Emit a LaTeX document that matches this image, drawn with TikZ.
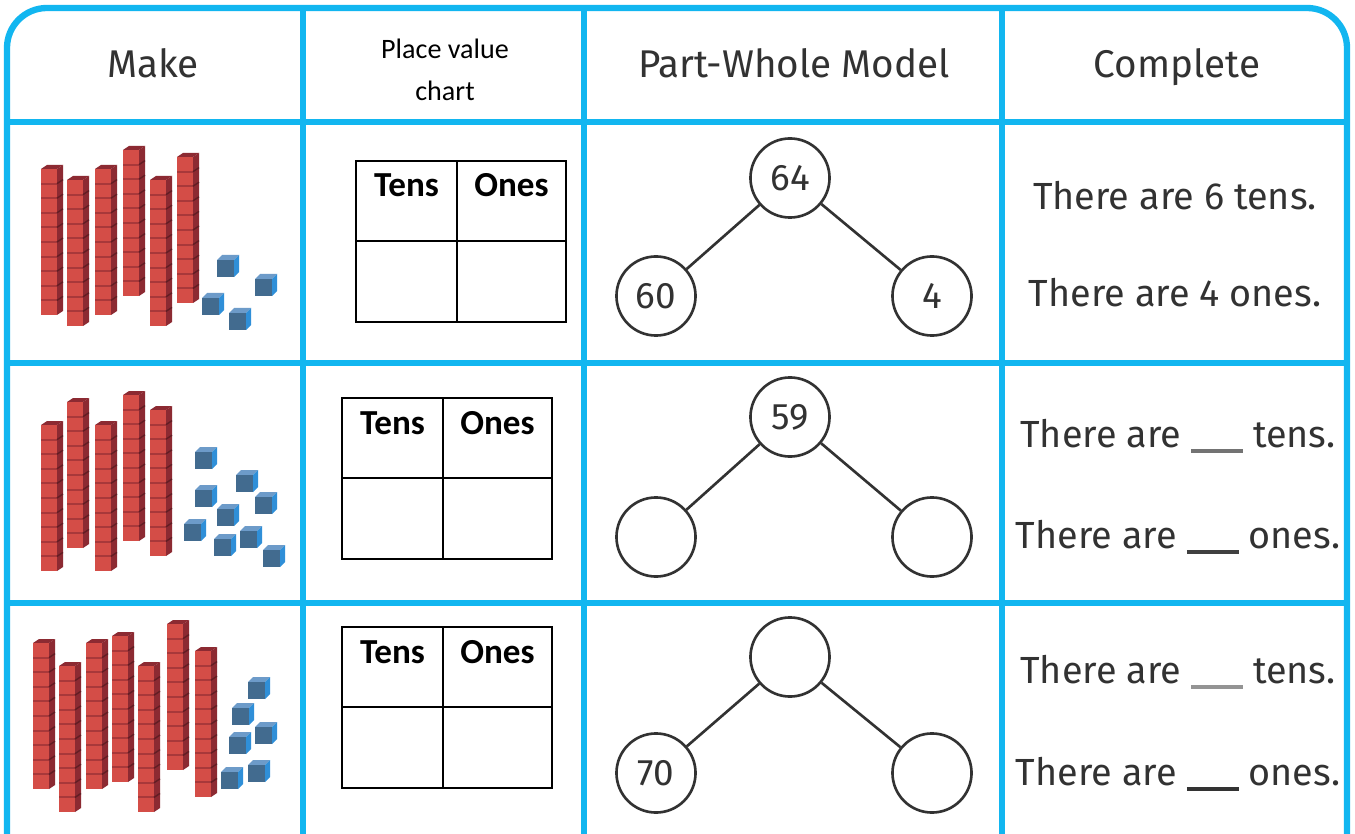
\documentclass[tikz,border=0pt]{standalone}
\usepackage{fontspec}
\usepackage{tikz}
\usetikzlibrary{positioning}
\newfontfamily\kidfont{Fira Sans}
\newfontfamily\chartfont{Carlito}
\definecolor{gridblue}{RGB}{18,182,240}
\definecolor{ink}{RGB}{50,50,50}
\definecolor{rodfront}{RGB}{212,77,71}
\definecolor{roddark}{RGB}{140,42,50}
\definecolor{rodline}{RGB}{168,56,58}
\definecolor{cubefront}{RGB}{66,107,143}
\definecolor{cubetop}{RGB}{109,155,201}
\definecolor{cubeside}{RGB}{47,143,216}
\newcommand{\blank}[1]{\textcolor{#1}{\rule[-3.5pt]{29.5pt}{2.4pt}}}

\tikzset{
  tenrod/.pic={
    \fill[roddark] (0,4) -- (6,0) -- (22,0) -- (16,4) -- cycle;
    \fill[roddark] (16,4) -- (22,0) -- (22,146) -- (16,150) -- cycle;
    \fill[rodfront] (0,4) rectangle (16,150);
    \foreach \k in {1,...,9} {
      \draw[rodline, line width=1.1pt] (0,{4+\k*14.6}) -- (16,{4+\k*14.6});
      \draw[roddark!70!black, line width=0.8pt] (16,{4+\k*14.6}) -- (22,{\k*14.6});
    }
  },
  unitcube/.pic={
    \fill[cubetop] (0,5) -- (5,0) -- (22,0) -- (17,5) -- cycle;
    \fill[cubeside] (17,5) -- (22,0) -- (22,17) -- (17,22) -- cycle;
    \fill[cubefront] (0,5) rectangle (17,22);
  },
  gridline/.style={draw=gridblue, line width=3.6pt},
  head/.style={font=\kidfont\fontsize{22}{26}\selectfont, text=ink, anchor=base},
  pvhead/.style={font=\chartfont\bfseries\fontsize{20}{24}\selectfont, anchor=base},
  pvline/.style={draw=black, line width=1.5pt},
  pw/.style={circle, draw=ink, line width=1.5pt, minimum size=45pt, inner sep=0pt,
    font=\kidfont\fontsize{21}{24}\selectfont, text=ink},
  pwline/.style={draw=ink, line width=1.5pt},
  sentence/.style={font=\kidfont\fontsize{21.5}{24}\selectfont, text=ink, anchor=base}
}

\begin{document}
\begin{tikzpicture}[x=0.02cm, y=-0.02cm]
    \useasboundingbox (0,0) rectangle (1355,834);
    \clip (0,0) rectangle (1355,834);
    \fill[white] (0,0) rectangle (1355,834);

    % table
    \draw[gridline, rounded corners=22.7pt] (7,860) -- (7,8) -- (1347,8) -- (1347,860);
    \foreach \x in {303,584,1002}
        \draw[gridline] (\x,8) -- (\x,860);
    \foreach \y in {122,363,603}
        \draw[gridline] (7,\y) -- (1347,\y);

    % headers
    \node[head] (make) at (153,78) {Make};
    \node[font=\chartfont\fontsize{16}{24}\selectfont, align=center] (pvc) at (445,70) {Place value\\chart};
    \node[head] (pwm) at (794,78) {Part-Whole Model};
    \node[head] (compl) at (1177,78) {Complete};

    % tens rods and ones cubes
    \foreach \x/\y in {41/165, 67/176, 95/165, 123/146, 150/176, 177/153,
                       41/421, 67/398, 95/421, 123/391, 150/406,
                       33/639, 59/662, 86/639, 112/632, 138/662, 167/620, 195/647}
        \pic at (\x,\y) {tenrod};
    \foreach \x/\y in {217/255, 255/274, 202/293, 229/308,
                       195/447, 236/470, 195/485, 255/492, 217/504, 184/519, 240/526, 214/534, 263/545,
                       248/677, 232/703, 255/722, 229/732, 221/767, 248/760}
        \pic at (\x,\y) {unitcube};

    % place value charts
    \foreach \r/\x/\y in {1/356/161, 2/342/398, 3/342/627} {
        \draw[pvline] (\x,\y) rectangle ++(210,161);
        \draw[pvline] ({\x+101},\y) -- ++(0,161);
        \draw[pvline] (\x,{\y+80}) -- ++(210,0);
        \node[pvhead] (tens\r) at ({\x+50.5},{\y+36}) {Tens};
        \node[pvhead] (ones\r) at ({\x+155.5},{\y+36}) {Ones};
    }

    % part-whole models
    \foreach \r/\yt/\yb/\w/\a/\b in {1/178/296/64/60/4, 2/417/537/59/{}/{}, 3/657/773/{}/70/{}} {
        \node[pw] (whole\r) at (790,\yt) {\w};
        \node[pw] (partA\r) at (656,\yb) {\a};
        \node[pw] (partB\r) at (932,\yb) {\b};
        \draw[pwline] (whole\r) -- (partA\r);
        \draw[pwline] (whole\r) -- (partB\r);
    }

    % sentences
    \node[sentence] (tens1s) at (1175,210) {There are 6 tens.};
    \node[sentence] (ones1s) at (1175,307) {There are 4 ones.};
    \node[sentence] (tens2s) at (1178,447) {There are \blank{black!55} tens.};
    \node[sentence] (ones2s) at (1178,548) {There are \blank{black!75} ones.};
    \node[sentence] (tens3s) at (1178,683) {There are \blank{black!42} tens.};
    \node[sentence] (ones3s) at (1178,785) {There are \blank{black!80} ones.};
\end{tikzpicture}
\end{document}
